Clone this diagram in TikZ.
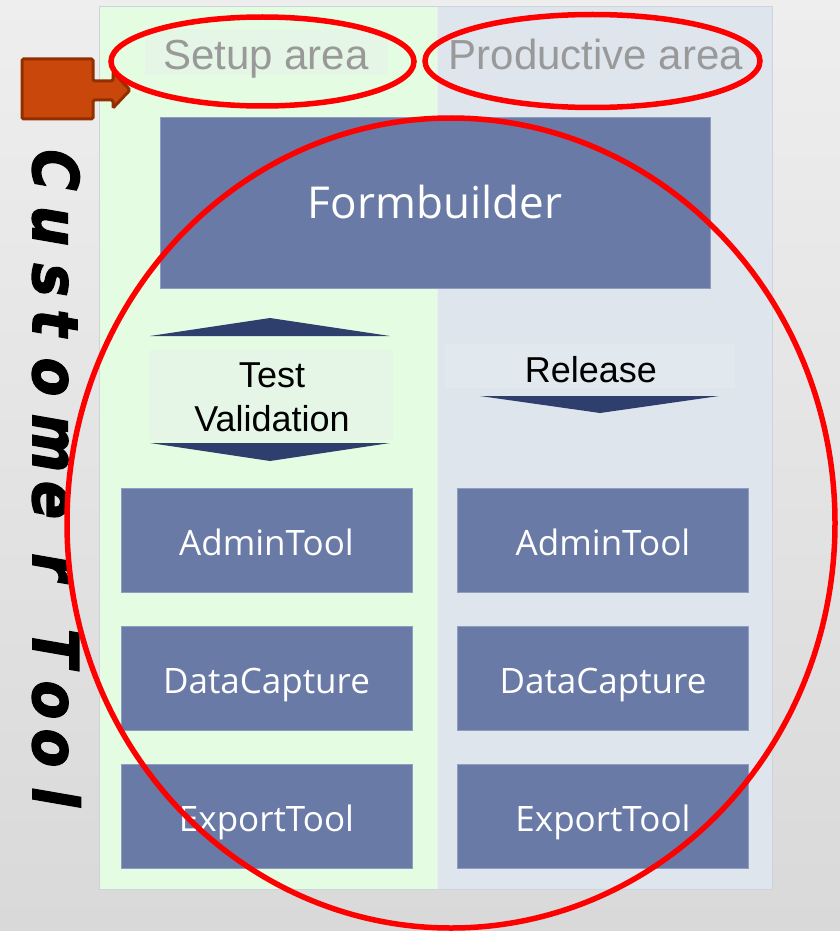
\documentclass[tikz,border=0pt]{standalone}
\usepackage{fontspec}
\setmainfont{Liberation Sans}
\newfontfamily\boxfont{Open Sans}
\newfontfamily\heavyfont{DejaVu Sans}[BoldItalicFeatures={FakeBold=2.5}]
\usetikzlibrary{shapes.geometric}
\definecolor{bgtop}{HTML}{EEEEEE}
\definecolor{bgbot}{HTML}{D9D9D9}
\definecolor{greenpanel}{HTML}{E3FCE2}
\definecolor{greenrect}{HTML}{E6F6E6}
\definecolor{bluepanel}{HTML}{DEE5EC}
\definecolor{bluerect}{HTML}{E1E8EE}
\definecolor{panelline}{HTML}{CDD3D8}
\definecolor{boxfill}{HTML}{6A7AA6}
\definecolor{boxline}{HTML}{8E9DC2}
\definecolor{arrowblue}{HTML}{2F3F6D}
\definecolor{orangefill}{HTML}{C9470A}
\definecolor{orangeline}{HTML}{922F00}
\definecolor{labelgray}{HTML}{999999}
\begin{document}
\begin{tikzpicture}[x=1pt,y=-1pt,
  toolbox/.style={draw=boxline, line width=1, fill=boxfill, text=white,
    font=\boxfont\fontsize{35}{40}\selectfont, minimum width=291, minimum height=104,
    inner sep=0, text height=30, text depth=0},
  arealabel/.style={font=\fontsize{42}{48}\selectfont, text=labelgray, anchor=base, inner sep=0},
  steplabel/.style={font=\fontsize{36}{44}\selectfont, text=black, inner sep=0, align=center},
  redring/.style={draw=red, line width=5.5, ellipse, inner sep=0},
  vletter/.style={font=\heavyfont\bfseries\itshape\fontsize{56}{56}\selectfont, rotate=-90, anchor=base, inner sep=0}]
\useasboundingbox (0,0) rectangle (840,931);
% background
\shade[top color=bgtop, bottom color=bgbot] (0,0) rectangle (840,931);
% panels
\fill[greenpanel] (99,7) rectangle (437,889);
\fill[bluepanel] (437,7) rectangle (772,889);
\draw[panelline, line width=1] (99,7) rectangle (772,889);
\draw[white!60!panelline, line width=1] (437,7) -- (437,889);
% text backdrops
\fill[greenrect] (145,29) rectangle (388,75);
\fill[greenrect] (150,350) rectangle (393,440);
\fill[bluerect] (445,344) rectangle (735,388);
% area labels
\node[arealabel] (setup) at (266,70) {Setup area};
\node[arealabel] (prod) at (596,70) {Productive area};
% formbuilder
\node[toolbox, minimum width=550, minimum height=170, font=\boxfont\fontsize{44}{50}\selectfont] (form) at (435,203) {Formbuilder};
% arrows
\fill[arrowblue] (150,336) -- (270,318) -- (390,336) -- cycle;
\fill[arrowblue] (150,443) -- (270,461) -- (390,443) -- cycle;
\fill[arrowblue] (480,396) -- (600,413) -- (719,396) -- cycle;
\node[steplabel] (test) at (272,397) {Test\\Validation};
\node[steplabel, anchor=base] (release) at (591,382) {Release};
% tool boxes
\node[toolbox] (admL) at (266.5,540) {AdminTool};
\node[toolbox] (dataL) at (266.5,678) {DataCapture};
\node[toolbox] (expL) at (266.5,816) {ExportTool};
\node[toolbox] (admR) at (603,540) {AdminTool};
\node[toolbox] (dataR) at (603,678) {DataCapture};
\node[toolbox] (expR) at (603,816) {ExportTool};
% orange pointer
\draw[orangeline, fill=orangefill, line width=3, rounded corners=1.5]
  (22,59) -- (93,59) -- (93,81) -- (113,81) -- (113,72) -- (130,90) -- (113,108)
  -- (113,100) -- (93,100) -- (93,119) -- (22,119) -- cycle;
% vertical title
\foreach \ch/\yy [count=\i] in {C/170,u/226,s/280,t/323,o/377,m/443,e/500,r/567,T/648,o/700,o/748,l/797}
  \node[vletter] (letter\i) at (33,\yy) {\scalebox{1}[1.12]{\ch}};
% red rings
\node[redring, minimum width=768, minimum height=810] (bigring) at (451,523) {};
\node[redring, minimum width=303, minimum height=89] (setupring) at (262.5,61.5) {};
\node[redring, minimum width=335, minimum height=93] (prodring) at (592.5,61) {};
\end{tikzpicture}
\end{document}
